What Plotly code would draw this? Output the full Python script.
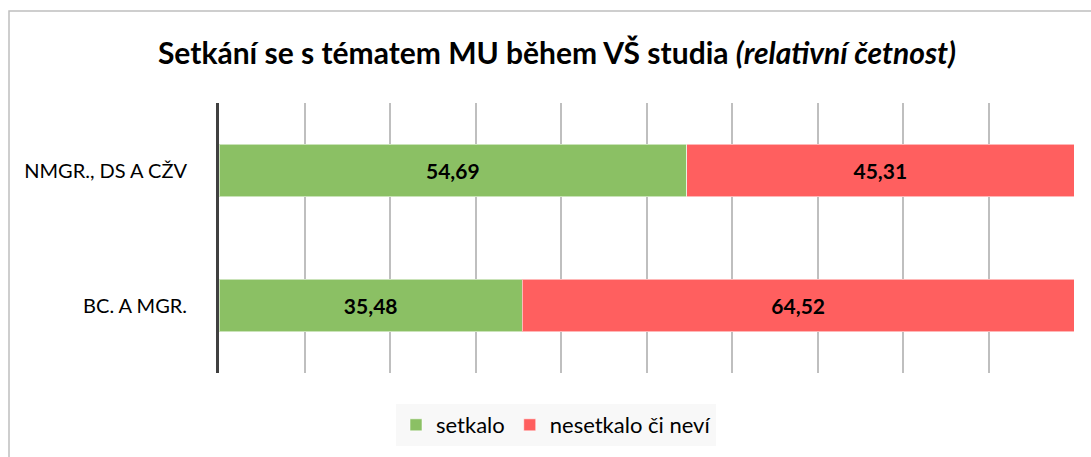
import plotly.graph_objects as go

# data
categories = ["BC. A MGR.", "NMGR., DS A CŽV"]
setkalo = [35.48, 54.69]
nesetkalo = [64.52, 45.31]
series_names = ["setkalo", "nesetkalo či neví"]
series_colors = ["#8BC064", "#FF5F5F"]

FONT = "Lato"
W, H = 1091, 457
ML, MR, MT, MB = 219, 17, 103, 84


def fmt(v):
    return f"{v:.2f}".replace(".", ",")


fig = go.Figure()
for name, vals, col in zip(series_names, [setkalo, nesetkalo], series_colors):
    fig.add_trace(go.Bar(
        y=categories,
        x=vals,
        name=name,
        orientation="h",
        marker=dict(color=col, line=dict(color="rgba(255,255,255,0.55)", width=1)),
        text=[fmt(v) for v in vals],
        textposition="inside",
        insidetextanchor="middle",
        textfont=dict(family=FONT, size=21, color="#000000", weight="bold"),
        width=0.39,
    ))

# outer chart border (left/top visible, right/bottom cropped)
pw, ph = W - ML - MR, H - MT - MB
fig.add_shape(
    type="rect", xref="paper", yref="paper",
    x0=(9 - ML) / pw, x1=(W + 20 - ML) / pw,
    y0=-(H + 20 - MT - ph) / ph, y1=(H - MB - 11) / ph,
    line=dict(color="#BFBFBF", width=1.5), fillcolor="rgba(0,0,0,0)", layer="below",
)

fig.update_layout(
    width=W, height=H,
    barmode="stack",
    paper_bgcolor="white",
    plot_bgcolor="white",
    margin=dict(l=ML, r=MR, t=MT, b=MB),
    font=dict(family=FONT, color="#000000"),
    title=dict(
        text="Setkání se s tématem MU během VŠ studia <i>(relativní četnost)</i>",
        x=557 / W, xanchor="center", xref="container",
        y=1 - 53 / H, yanchor="middle", yref="container",
        font=dict(family=FONT, size=30, color="#000000", weight="bold"),
    ),
    xaxis=dict(
        range=[0, 100], dtick=10, showticklabels=False,
        showgrid=True, gridcolor="#BFBFBF", gridwidth=1.5,
        zeroline=False, showline=False, fixedrange=True,
    ),
    yaxis=dict(
        showline=True, linecolor="#404040", linewidth=3,
        showgrid=False, ticks="", ticklabelstandoff=25,
        tickfont=dict(family=FONT, size=20, color="#000000"),
        fixedrange=True,
    ),
    legend=dict(
        orientation="h", x=556 / W, xanchor="center", xref="container",
        y=1 - 425 / H, yanchor="middle", yref="container",
        bgcolor="#F8F8F8", borderwidth=0,
        font=dict(family=FONT, size=22, color="#000000"),
        itemwidth=30, traceorder="normal",
    ),
    showlegend=True,
)

fig.write_html(
    "out.html",
    config={"displayModeBar": False},
    post_script="document.body.style.margin='0';",
)
